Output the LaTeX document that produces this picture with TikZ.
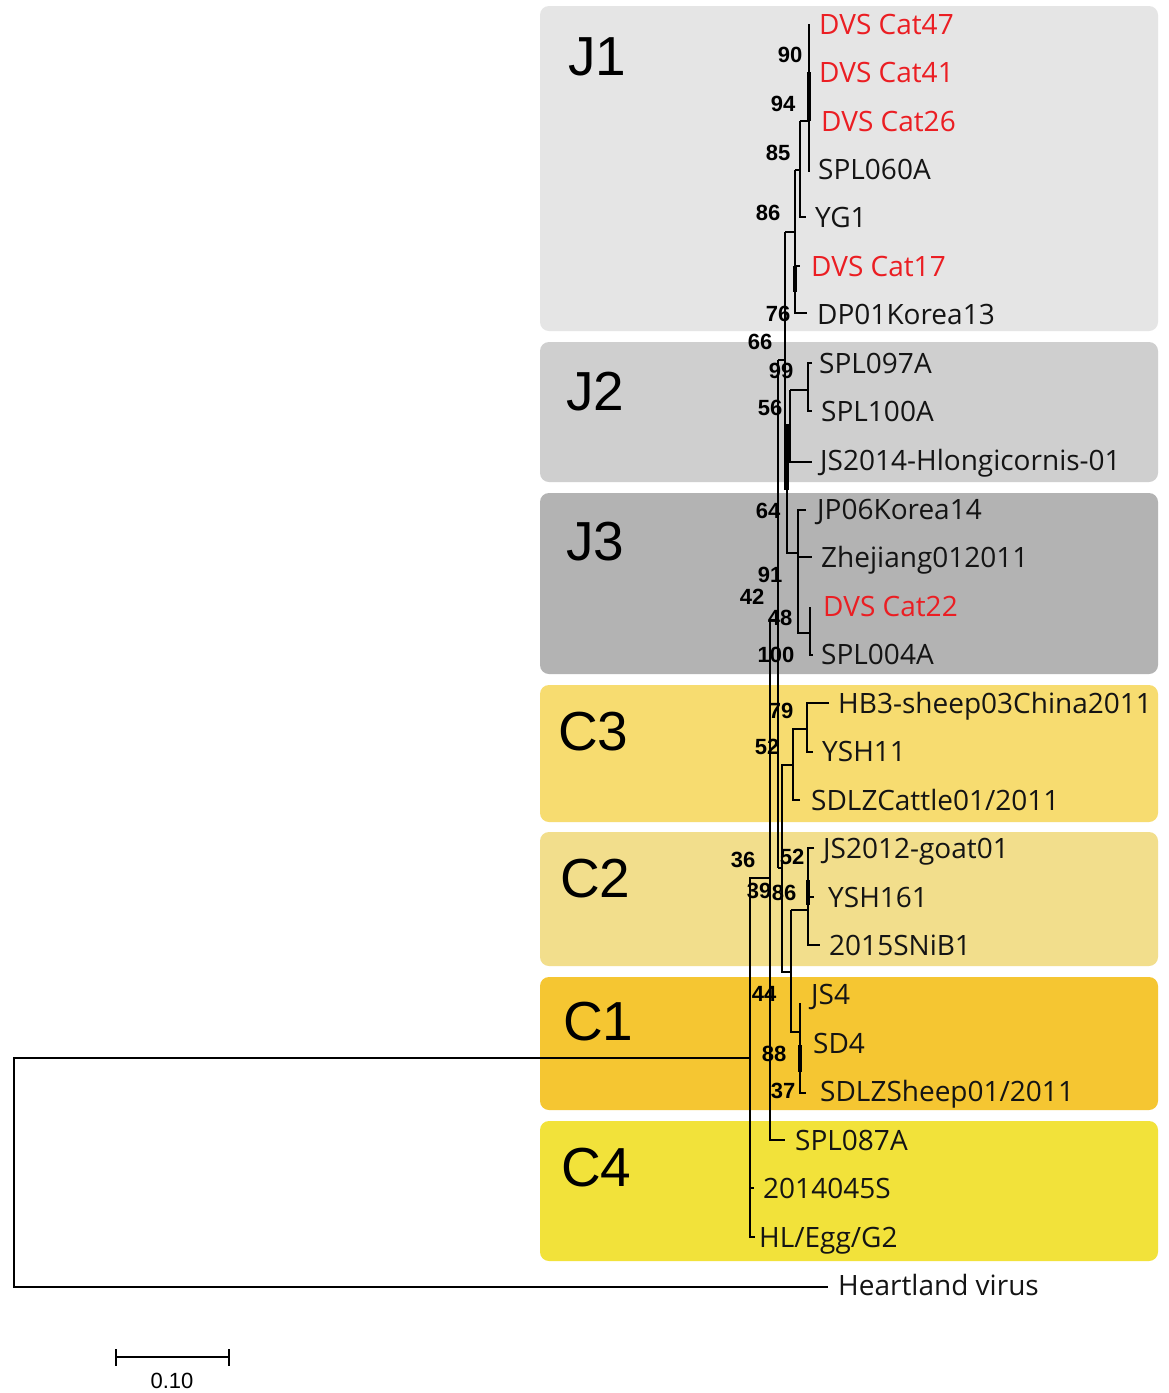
\documentclass[tikz,border=0pt]{standalone}
\usepackage{fontspec}
\setmainfont{Liberation Sans}
\newfontfamily\leaffont{Open Sans}
\definecolor{cJone}{RGB}{229,229,229}
\definecolor{cJtwo}{RGB}{207,207,207}
\definecolor{cJthree}{RGB}{179,179,179}
\definecolor{cCthree}{RGB}{247,220,112}
\definecolor{cCtwo}{RGB}{242,222,140}
\definecolor{cCone}{RGB}{245,198,50}
\definecolor{cCfour}{RGB}{242,226,58}
\definecolor{leafred}{RGB}{235,30,35}
\definecolor{ink}{RGB}{20,20,20}
\begin{document}
\begin{tikzpicture}[x=1pt,y=-1pt,
  clade/.style={rounded corners=9pt},
  cladelbl/.style={font=\fontsize{55}{55}\selectfont, inner sep=0pt, anchor=base west, text=black},
  leaf/.style={font=\leaffont\fontsize{28}{28}\selectfont, inner sep=0pt, anchor=base west, text=ink},
  redleaf/.style={leaf, text=leafred},
  boot/.style={font=\bfseries\fontsize{22}{22}\selectfont, inner sep=0pt, anchor=center, text=black},
  br/.style={draw=black, line width=1.8pt},
  fat/.style={draw=black, line width=4pt},
  scalelbl/.style={font=\fontsize{22}{22}\selectfont, inner sep=0pt, anchor=center}]
\useasboundingbox (0,0) rectangle (1168,1393);
\fill[white] (0,0) rectangle (1168,1393);
% clade boxes
\fill[cJone,clade] (540,6) rectangle (1158,331);
\fill[cJtwo,clade] (540,342) rectangle (1158,482);
\fill[cJthree,clade] (540,493) rectangle (1158,674);
\fill[cCthree,clade] (540,685) rectangle (1158,822);
\fill[cCtwo,clade] (540,832) rectangle (1158,966);
\fill[cCone,clade] (540,977) rectangle (1158,1110);
\fill[cCfour,clade] (540,1121) rectangle (1158,1261);
% clade labels
\node[cladelbl] (J1) at (568,75) {J1};
\node[cladelbl] (J2) at (566,410) {J2};
\node[cladelbl] (J3) at (566,560) {J3};
\node[cladelbl] (C3) at (558,750) {C3};
\node[cladelbl] (C2) at (560,897) {C2};
\node[cladelbl] (C1) at (563,1040) {C1};
\node[cladelbl] (C4) at (561,1186) {C4};
% tree: J1
\draw[br] (809,24) -- (809,172);
\draw[fat] (809,72) -- (809,121);
\draw[br] (800,121) -- (809,121);
\draw[br] (800,121) -- (800,217) -- (806,217);
\draw[br] (795,170) -- (800,170);
\draw[br] (795,170) -- (795,313) -- (807,313);
\draw[fat] (795,266) -- (795,292);
\draw[br] (795,266) -- (800,266);
\draw[br] (785,232) -- (795,232);
\draw[br] (785,232) -- (785,490);
\draw[fat] (786.5,425) -- (786.5,490);
% J2
\draw[br] (778,360) -- (778,868);
\draw[br] (778,360) -- (785,360);
\draw[br] (790,390) -- (790,462) -- (812,462);
\draw[br] (790,390) -- (808,390);
\draw[br] (812,363) -- (808,363) -- (808,411) -- (812,411);
\draw[br] (786,425) -- (790,425);
% J3
\draw[br] (787,425) -- (787,553) -- (798,553);
\draw[br] (806,510) -- (798,510) -- (798,633) -- (810,633);
\draw[br] (798,557) -- (812,557);
\draw[br] (810,607) -- (810,655) -- (813,655);
% deep branches
\draw[br] (778,620) -- (770,620) -- (770,1140) -- (785,1140);
\draw[br] (770,878) -- (750,878) -- (750,1237) -- (755,1237);
\draw[br] (750,1188) -- (754,1188);
% C3 and the C3/C2/C1 node
\draw[br] (778,868) -- (782,868);
\draw[br] (793,765) -- (782,765) -- (782,972) -- (791,972);
\draw[br] (800,800) -- (793,800) -- (793,729) -- (807,729);
\draw[br] (829,703) -- (807,703) -- (807,752) -- (813,752);
% C2
\draw[br] (791,910) -- (791,1032) -- (800,1032);
\draw[br] (791,910) -- (808,910);
\draw[br] (814,848) -- (808,848) -- (808,945) -- (820,945);
\draw[fat] (808,880) -- (808,905);
\draw[br] (808,897) -- (814,897);
% C1
\draw[br] (800,1003) -- (800,1093) -- (806,1093);
\draw[fat] (800,1045) -- (800,1072);
% root and outgroup
\draw[br] (750,1058) -- (14,1058) -- (14,1287) -- (828,1287);
% scale bar
\draw[draw=black, line width=1.4pt] (116,1357) -- (229,1357);
\draw[draw=black, line width=1.4pt] (116,1349) -- (116,1366);
\draw[draw=black, line width=1.4pt] (229,1349) -- (229,1366);
\node[scalelbl] (scale) at (172,1381) {0.10};
% leaves
\node[redleaf] (L1) at (819,34) {DVS Cat47};
\node[redleaf] (L2) at (819,82) {DVS Cat41};
\node[redleaf] (L3) at (821,131) {DVS Cat26};
\node[leaf] (L4) at (818,179) {SPL060A};
\node[leaf] (L5) at (815,227) {YG1};
\node[redleaf] (L6) at (811,276) {DVS Cat17};
\node[leaf] (L7) at (817,324) {DP01Korea13};
\node[leaf] (L8) at (819,373) {SPL097A};
\node[leaf] (L9) at (821,421) {SPL100A};
\node[leaf] (L10) at (820,470) {JS2014-Hlongicornis-01};
\node[leaf] (L11) at (817,519) {JP06Korea14};
\node[leaf] (L12) at (821,567) {Zhejiang012011};
\node[redleaf] (L13) at (823,616) {DVS Cat22};
\node[leaf] (L14) at (821,664) {SPL004A};
\node[leaf] (L15) at (838,713) {HB3-sheep03China2011};
\node[leaf] (L16) at (822,761) {YSH11};
\node[leaf] (L17) at (811,810) {SDLZCattle01/2011};
\node[leaf] (L18) at (823,858) {JS2012-goat01};
\node[leaf] (L19) at (828,907) {YSH161};
\node[leaf] (L20) at (829,955) {2015SNiB1};
\node[leaf] (L21) at (811,1004) {JS4};
\node[leaf] (L22) at (813,1053) {SD4};
\node[leaf] (L23) at (820,1101) {SDLZSheep01/2011};
\node[leaf] (L24) at (795,1150) {SPL087A};
\node[leaf] (L25) at (763,1198) {2014045S};
\node[leaf] (L26) at (759,1247) {HL/Egg/G2};
\node[leaf] (L27) at (838,1295) {Heartland virus};
% bootstrap values
\node[boot] (b1) at (790,55) {90};
\node[boot] (b2) at (783,104) {94};
\node[boot] (b3) at (778,153) {85};
\node[boot] (b4) at (768,213) {86};
\node[boot] (b5) at (778,314) {76};
\node[boot] (b6) at (760,342) {66};
\node[boot] (b7) at (781,371) {99};
\node[boot] (b8) at (770,408) {56};
\node[boot] (b9) at (768,511) {64};
\node[boot] (b10) at (770,575) {91};
\node[boot] (b11) at (752,597) {42};
\node[boot] (b12) at (780,618) {48};
\node[boot] (b13) at (776,655) {100};
\node[boot] (b14) at (781,711) {79};
\node[boot] (b15) at (767,747) {52};
\node[boot] (b16) at (792,857) {52};
\node[boot] (b17) at (743,860) {36};
\node[boot] (b18) at (759,891) {39};
\node[boot] (b19) at (784,893) {86};
\node[boot] (b20) at (764,994) {44};
\node[boot] (b21) at (774,1054) {88};
\node[boot] (b22) at (783,1091) {37};
\end{tikzpicture}
\end{document}
